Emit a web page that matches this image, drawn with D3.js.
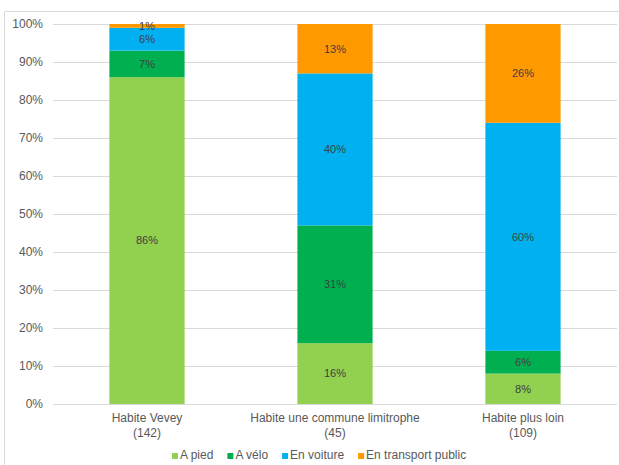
<!DOCTYPE html>
<html>
<head>
<meta charset="utf-8">
<script src="https://cdn.jsdelivr.net/npm/d3@7"></script>
<style>
  html, body { margin: 0; padding: 0; background: #fff; }
  svg { display: block; font-family: "Liberation Sans", Arial, sans-serif; }
</style>
</head>
<body>
<svg id="chart" width="619" height="465"></svg>
<script>
// Modes of transport by place of residence (share of respondents, %)
const categories = ["Habite Vevey", "Habite une commune limitrophe", "Habite plus loin"];
const counts = ["(142)", "(45)", "(109)"];
const seriesNames = ["A pied", "A vélo", "En voiture", "En transport public"];
const aPied = [86, 16, 8];
const aVelo = [7, 31, 6];
const enVoiture = [6, 40, 60];
const enTransport = [1, 13, 26];
const seriesColors = ["#92D050", "#00B050", "#00B0F0", "#FF9900"];
const yTicks = [0, 10, 20, 30, 40, 50, 60, 70, 80, 90, 100];

const rows = categories.map((c, i) => ({
  cat: c,
  "A pied": aPied[i],
  "A vélo": aVelo[i],
  "En voiture": enVoiture[i],
  "En transport public": enTransport[i]
}));

const svg = d3.select("#chart");

// chart frame (partly outside the visible area)
svg.append("path")
  .attr("d", "M4.5,465 L4.5,11.5 L619,11.5")
  .attr("fill", "none")
  .attr("stroke", "#d9d9d9")
  .attr("stroke-width", 1);

const x = d3.scaleBand().domain(categories).range([53, 617]).paddingInner(0.6).paddingOuter(0.3);
const y = d3.scaleLinear().domain([0, 100]).range([404, 24]);

// gridlines
svg.append("g").selectAll("line").data(yTicks).join("line")
  .attr("x1", 53).attr("x2", 617)
  .attr("y1", d => Math.round(y(d)) + 0.5).attr("y2", d => Math.round(y(d)) + 0.5)
  .attr("stroke", "#d9d9d9").attr("stroke-width", 1);

// y axis labels
const yAxis = d3.axisLeft(y).tickValues(yTicks).tickFormat(d => d + "%").tickSize(0).tickPadding(10);
const gy = svg.append("g").attr("transform", "translate(53,0)").call(yAxis);
gy.select(".domain").remove();
gy.selectAll("text")
  .attr("font-family", "Liberation Sans, Arial, sans-serif")
  .attr("font-size", 12).attr("fill", "#595959");

// stacked bars
const stack = d3.stack().keys(seriesNames);
const layers = stack(rows);
const color = d3.scaleOrdinal().domain(seriesNames).range(seriesColors);

const gl = svg.append("g").selectAll("g").data(layers).join("g")
  .attr("fill", d => color(d.key));
gl.selectAll("rect").data(d => d).join("rect")
  .attr("x", d => x(d.data.cat))
  .attr("width", x.bandwidth())
  .attr("y", d => y(d[1]))
  .attr("height", d => y(d[0]) - y(d[1]));

// value labels
const gt = svg.append("g").selectAll("g").data(layers).join("g");
gt.selectAll("text").data(d => d.map(v => ({ v, key: d.key }))).join("text")
  .attr("x", d => x(d.v.data.cat) + x.bandwidth() / 2)
  .attr("y", d => (y(d.v[0]) + y(d.v[1])) / 2)
  .attr("dy", "0.35em")
  .attr("text-anchor", "middle")
  .attr("font-size", 11)
  .attr("fill", "#404040")
  .text(d => (d.v[1] - d.v[0]) + "%");

// category labels
const gx = svg.append("g");
categories.forEach((c, i) => {
  const cx = x(c) + x.bandwidth() / 2;
  const t = gx.append("text").attr("text-anchor", "middle")
    .attr("font-size", 12).attr("fill", "#595959");
  t.append("tspan").attr("x", cx).attr("y", 422).text(c);
  t.append("tspan").attr("x", cx).attr("y", 437).text(counts[i]);
});

// legend
const legend = svg.append("g");
let lx = 0;
seriesNames.forEach((name, i) => {
  const g = legend.append("g");
  g.append("rect").attr("x", lx).attr("y", -6).attr("width", 6).attr("height", 6).attr("fill", seriesColors[i]);
  const t = g.append("text").attr("x", lx + 8).attr("y", 0)
    .attr("font-size", 12).attr("fill", "#595959").text(name);
  lx += 8 + t.node().getComputedTextLength() + 14;
});
const totalW = lx - 14;
legend.attr("transform", `translate(${Math.round(319 - totalW / 2)},459)`);
</script>
</body>
</html>
